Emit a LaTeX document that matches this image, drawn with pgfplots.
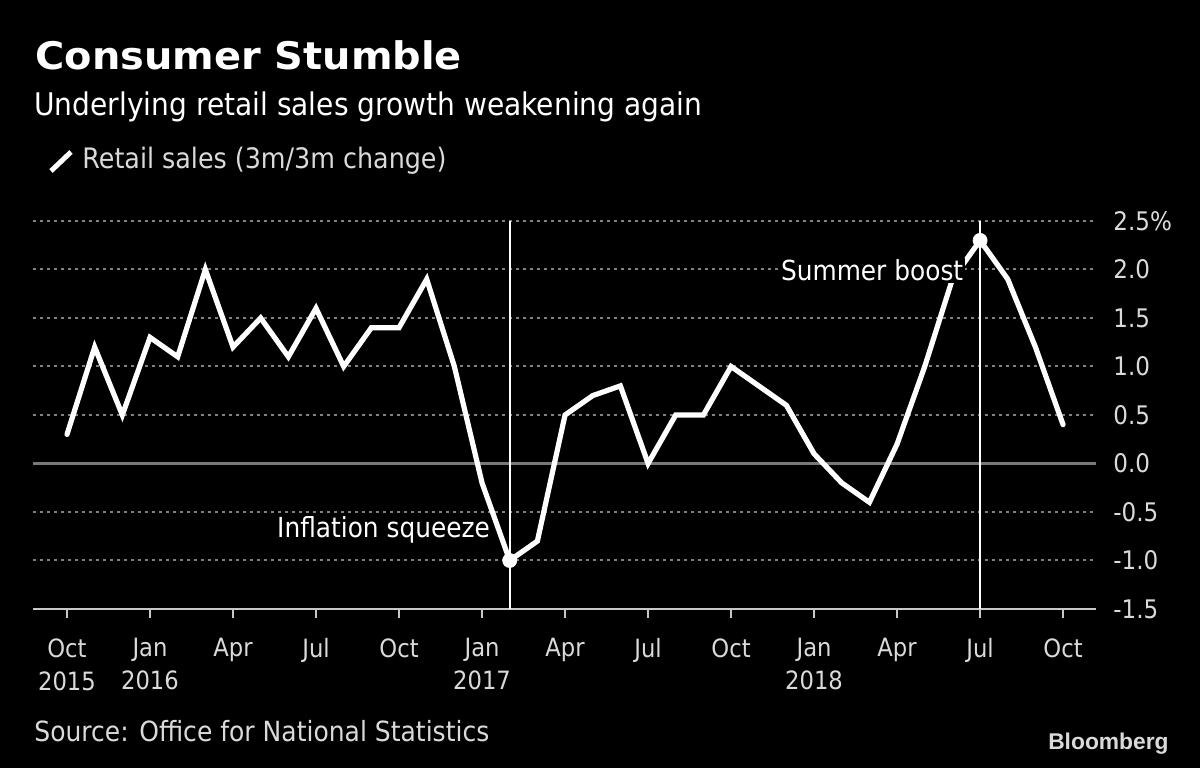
\documentclass[border=0pt]{standalone}
\usepackage{fontspec}
\usepackage{pgfplots}
\pgfplotsset{compat=1.18}
\newfontfamily\bb[FakeStretch=0.9]{DejaVu Sans}
\newfontfamily\bbt[FakeStretch=1.05]{DejaVu Sans}
\newfontfamily\lib{Liberation Sans}
\definecolor{txtgray}{RGB}{218,218,218}
\definecolor{gridgray}{RGB}{130,130,130}
\definecolor{zerogray}{RGB}{120,120,120}
\definecolor{axisgray}{RGB}{200,200,200}
\pgfplotstableread{
i v
0 0.3
1 1.2
2 0.5
3 1.3
4 1.1
5 2.0
6 1.2
7 1.5
8 1.1
9 1.6
10 1.0
11 1.4
12 1.4
13 1.9
14 1.0
15 -0.2
16 -1.0
17 -0.8
18 0.5
19 0.7
20 0.8
21 0.0
22 0.5
23 0.5
24 1.0
25 0.8
26 0.6
27 0.1
28 -0.2
29 -0.4
30 0.2
31 1.0
32 1.9
33 2.3
34 1.9
35 1.2
36 0.4
}\retail
\begin{document}
\begin{tikzpicture}
\fill[black] (0,0) rectangle (600bp,384bp);
\useasboundingbox (0,0) rectangle (600bp,384bp);
\node[anchor=base west, inner sep=0, text=white, font={\bbt\bfseries\fontsize{19bp}{20bp}\selectfont}] at (17.5bp,349bp) {Consumer Stumble};
\node[anchor=base west, inner sep=0, text=white, font={\bb\fontsize{15.6bp}{18bp}\selectfont}] at (17bp,326bp) {Underlying retail sales growth weakening again};
\draw[white, line width=2.5bp] (25.5bp,298.5bp) -- (35.5bp,308bp);
\node[anchor=base west, inner sep=0, text=txtgray, font={\bb\fontsize{14.1bp}{16bp}\selectfont}] at (41bp,299.5bp) {Retail sales (3m/3m change)};
\begin{axis}[
  at={(16.5bp,79.5bp)}, anchor=south west,
  scale only axis, width=531.5bp, height=194bp,
  xmin=-1.229, xmax=37.19, ymin=-1.5, ymax=2.5,
  axis x line*=bottom, axis y line*=right,
  x axis line style={draw=axisgray, line width=1bp},
  y axis line style={draw=none},
  xtick={0,3,6,9,12,15,18,21,24,27,30,33,36},
  xticklabels={{Oct\\2015},{Jan\\2016},Apr,Jul,Oct,{Jan\\2017},Apr,Jul,Oct,{Jan\\2018},Apr,Jul,Oct},
  xtick style={draw=axisgray, line width=1bp},
  tick align=outside, major tick length=4.5bp,
  xticklabel style={font={\bb\fontsize{12.6bp}{16.5bp}\selectfont}, text=txtgray, align=center, anchor=north, inner sep=0pt, yshift=-10bp},
  ytick={-1.5,-1,-0.5,0,0.5,1,1.5,2,2.5},
  yticklabels={-1.5,-1.0,-0.5,0.0,0.5,1.0,1.5,2.0,2.5\%},
  ytick style={draw=none},
  yticklabel style={font={\bb\fontsize{12.8bp}{14bp}\selectfont}, text=txtgray, anchor=west, inner sep=0pt, xshift=4bp},
  ymajorgrids, major grid style={draw=gridgray, line width=1bp, dash pattern=on 1.5bp off 2bp},
  clip=false,
]
\addplot[zerogray, line width=1.2bp, forget plot] coordinates {(-1.229,0) (37.19,0)};
\addplot[white, line width=0.8bp] coordinates {(16,-1.5) (16,2.5)};
\addplot[white, line width=0.8bp] coordinates {(33,-1.5) (33,2.5)};
\addplot[white, line width=2.6bp, line cap=round] table[x=i, y=v] {\retail};
\addplot[only marks, mark=*, mark size=3.5bp, white] coordinates {(16,-1) (33,2.3)};
\node[anchor=base east, inner sep=0, text=white, font={\bb\fontsize{13.8bp}{16bp}\selectfont}] at (axis cs:15.3,-0.758) {Inflation squeeze};
\node[anchor=base west, inner sep=1bp, fill=black, text=white, font={\bb\fontsize{13.8bp}{16bp}\selectfont}] at (axis cs:25.72,1.885) {Summer boost};
\end{axis}
\node[anchor=base west, inner sep=0, text=txtgray, font={\bb\fontsize{13.9bp}{16bp}\selectfont}] at (17bp,13.5bp) {Source: Office for National Statistics};
\node[anchor=base east, inner sep=0, text=txtgray, font={\lib\bfseries\fontsize{11.4bp}{12bp}\selectfont}] at (584.5bp,9.5bp) {Bloomberg};
\end{tikzpicture}
\end{document}
